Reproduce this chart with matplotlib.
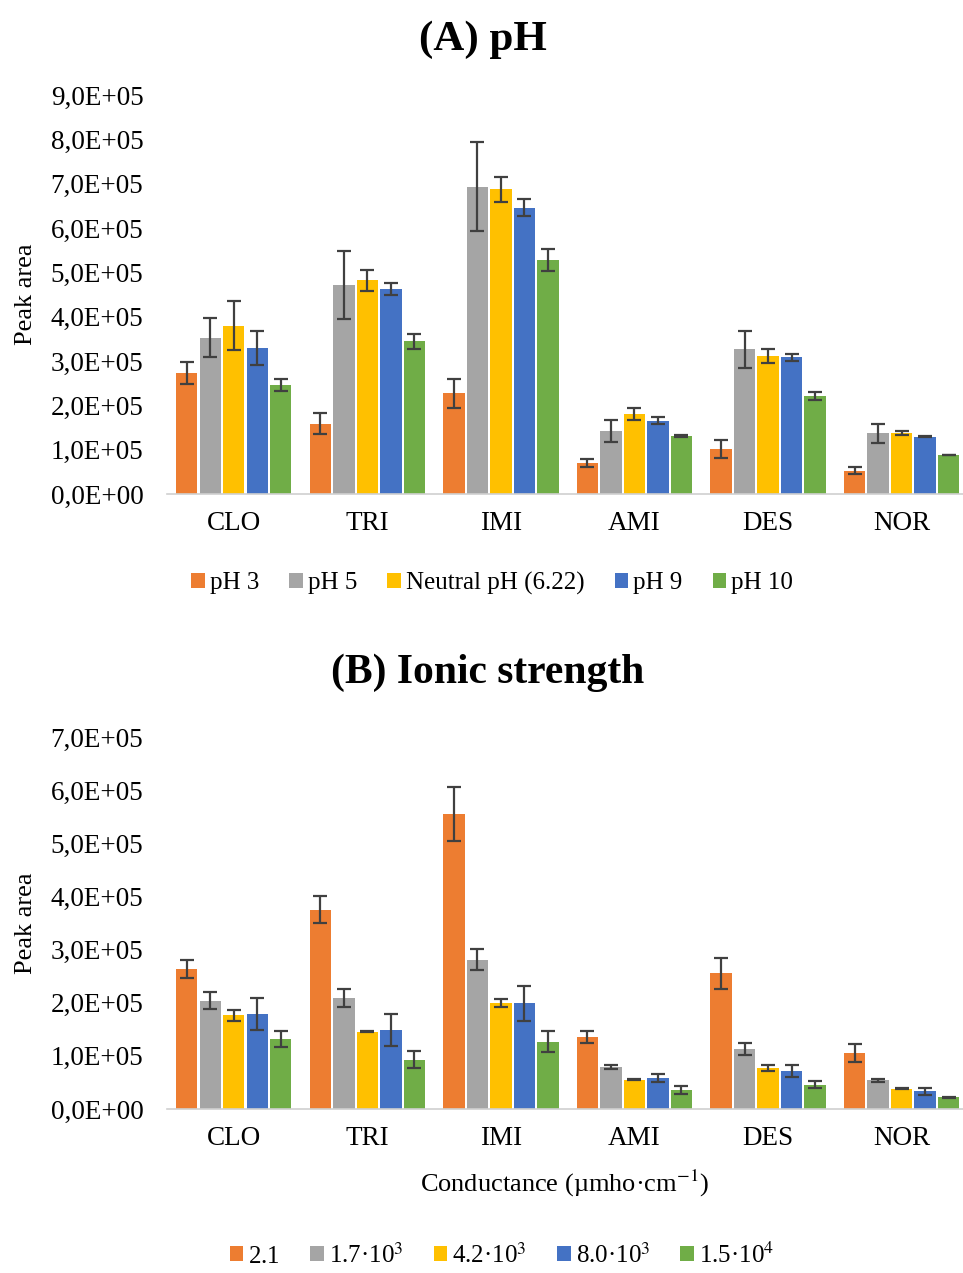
import numpy as np
import matplotlib
matplotlib.use("Agg")
import matplotlib.pyplot as plt
from matplotlib.ticker import FuncFormatter

plt.rcParams['font.family'] = ['Liberation Serif', 'DejaVu Serif']
plt.rcParams['mathtext.fontset'] = 'stix'

drugs = ["CLO", "TRI", "IMI", "AMI", "DES", "NOR"]
colors = ["#ED7D31", "#A5A5A5", "#FFC000", "#4472C4", "#70AD47"]

# (A) pH, values in units of 1e5
ph_labels = ["pH 3", "pH 5", "Neutral pH (6.22)", "pH 9", "pH 10"]
ph_vals = [
    [2.72, 1.59, 2.27, 0.71, 1.02, 0.53],
    [3.53, 4.71, 6.93, 1.43, 3.26, 1.37],
    [3.80, 4.82, 6.87, 1.80, 3.11, 1.38],
    [3.29, 4.62, 6.46, 1.65, 3.08, 1.29],
    [2.46, 3.44, 5.28, 1.31, 2.21, 0.88],
]
ph_err = [
    [0.25, 0.24, 0.33, 0.09, 0.20, 0.07],
    [0.45, 0.76, 1.00, 0.25, 0.42, 0.21],
    [0.55, 0.23, 0.29, 0.13, 0.15, 0.04],
    [0.39, 0.14, 0.19, 0.08, 0.08, 0.01],
    [0.14, 0.18, 0.24, 0.03, 0.08, 0.01],
]

# (B) Ionic strength, values in units of 1e5
ion_labels = ["2.1$^{\\ }$", "1.7·10$^{3}$", "4.2·10$^{3}$", "8.0·10$^{3}$", "1.5·10$^{4}$"]
ion_vals = [
    [2.64, 3.75, 5.55, 1.36, 2.55, 1.05],
    [2.04, 2.08, 2.81, 0.79, 1.13, 0.54],
    [1.76, 1.45, 1.99, 0.55, 0.77, 0.38],
    [1.78, 1.48, 1.99, 0.58, 0.71, 0.33],
    [1.32, 0.93, 1.27, 0.36, 0.46, 0.22],
]
ion_err = [
    [0.17, 0.25, 0.50, 0.11, 0.30, 0.17],
    [0.16, 0.17, 0.20, 0.04, 0.12, 0.03],
    [0.10, 0.01, 0.08, 0.01, 0.06, 0.01],
    [0.30, 0.30, 0.33, 0.08, 0.11, 0.06],
    [0.15, 0.16, 0.20, 0.08, 0.07, 0.01],
]

W, H = 963, 1273
fig = plt.figure(figsize=(W / 100, H / 100), dpi=100)


def sci_fmt(v, pos):
    return f"{v:.1E}".replace(".", ",")


def px_x(px):
    # figure pixel -> axes fraction (axes from 167 to 963 px)
    return (px - 167) / 796


def panel(rect, vals, errs, labels, ymax, leg_xy, legsize):
    ax = fig.add_axes(rect)
    x = np.arange(len(drugs))
    step = 0.176
    for i, (v, e) in enumerate(zip(vals, errs)):
        off = (i - 2) * step
        ax.bar(x + off, np.array(v) * 1e5, width=0.16, color=colors[i],
               label=labels[i], zorder=2,
               yerr=np.array(e) * 1e5,
               error_kw=dict(ecolor="#404040", elinewidth=1.6, capsize=5, capthick=1.6))
    ax.set_xlim(-0.5, 5.46)
    ax.set_ylim(0, ymax)
    ax.set_yticks(np.arange(0, ymax + 1, 1e5))
    ax.yaxis.set_major_formatter(FuncFormatter(sci_fmt))
    ax.set_xticks(x)
    ax.set_xticklabels(drugs)
    ax.tick_params(axis="y", length=0, pad=17, labelsize=19.5)
    ax.tick_params(axis="x", length=0, pad=12, labelsize=19.5)
    for s in ["top", "right", "left"]:
        ax.spines[s].set_visible(False)
    ax.spines["bottom"].set_color("#D0D0D0")
    ax.spines["bottom"].set_linewidth(1.2)
    ax.set_ylabel("Peak area", fontsize=19)
    ax.yaxis.set_label_coords(-0.163, 0.5)
    ax.legend(loc="center", bbox_to_anchor=leg_xy, ncol=5,
              frameon=False, fontsize=legsize, handlelength=0.55,
              handleheight=0.55, handletextpad=0.2, columnspacing=1.2)
    return ax


hA = 494 - 95
axA = panel([167 / W, 1 - 494 / H, 796 / W, hA / H], ph_vals, ph_err, ph_labels,
            9e5, (px_x(492), -(583 - 494) / hA), 18)
fig.text(483 / W, 1 - 40 / H, "(A) pH", ha="center", va="center",
         fontsize=31, fontweight="bold")

hB = 1109 - 737
axB = panel([167 / W, 1 - 1109 / H, 796 / W, hB / H], ion_vals, ion_err, ion_labels,
            7e5, (px_x(502), -(1255 - 1109) / hB), 18)
fig.text(488 / W, 1 - 673 / H, "(B) Ionic strength", ha="center", va="center",
         fontsize=30, fontweight="bold")
fig.text(565 / W, 1 - 1183 / H, "Conductance (µmho·cm$^{-1}$)", ha="center",
         va="center", fontsize=19)

fig.savefig("out.png", dpi=100)
